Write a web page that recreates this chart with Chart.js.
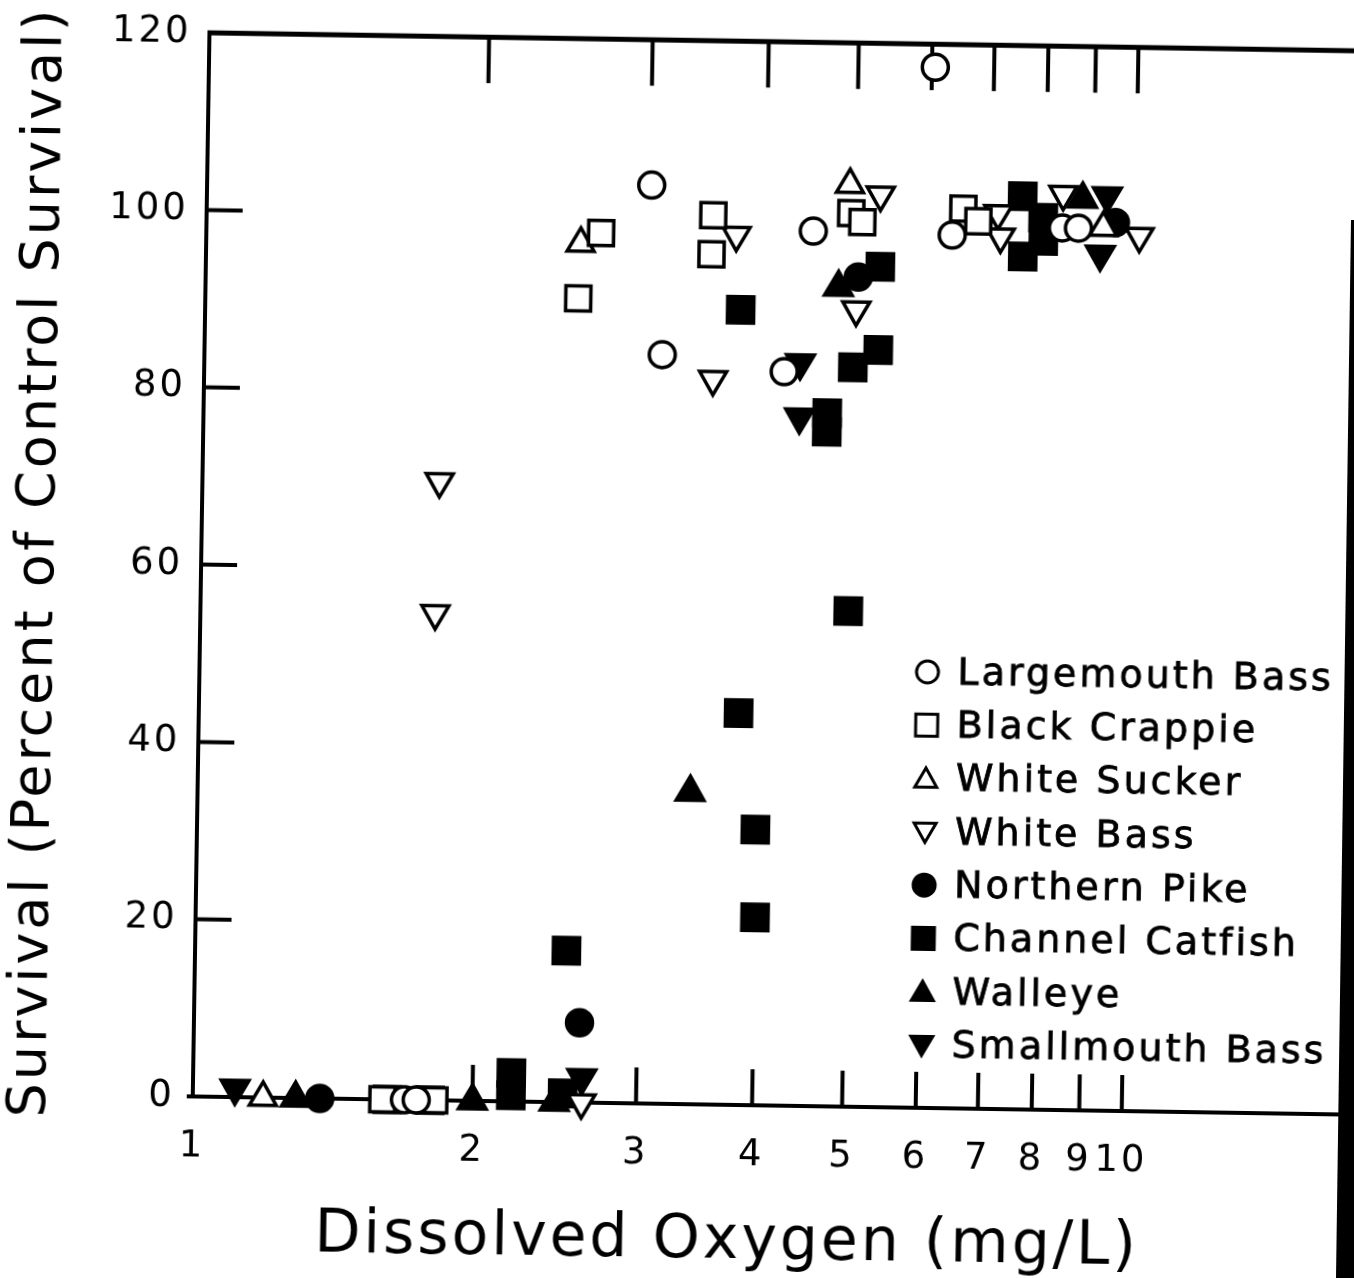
<!DOCTYPE html>
<html>
<head>
<meta charset="utf-8">
<script src="https://cdn.jsdelivr.net/npm/chart.js@4.4.1/dist/chart.umd.min.js"></script>
<style>
  html, body { margin: 0; padding: 0; background: #fff; overflow: hidden; }
  #wrap { position: absolute; left: 0; top: 0; width: 1354px; height: 1278px;
          transform: rotate(0.9deg); transform-origin: 677px 639px; }
  #edge { position: absolute; left: 0; top: 0; width: 1354px; height: 1278px; background: #000;
          clip-path: polygon(1351px 220px, 1354px 220px, 1354px 1278px, 1336px 1278px); }
</style>
</head>
<body>
<div id="wrap"><canvas id="myChart" width="1354" height="1278"></canvas></div>
<div id="edge"></div>
<script>
// tick values / labels
var xTickValues = [1, 2, 3, 4, 5, 6, 7, 8, 9, 10];
var xTickLabels = ['1', '2', '3', '4', '5', '6', '7', '8', '9', '10'];
var yTickValues = [0, 20, 40, 60, 80, 100, 120];

// [dissolved oxygen mg/L, survival %]
var largemouthBass = [[6.05, 117.4], [3.01, 103.6], [3.11, 84.5], [4.50, 98.7], [4.21, 82.8],
  [6.35, 98.5], [8.34, 99.5], [8.68, 99.5], [1.69, 0], [1.74, 0]];
var blackCrappie = [[2.52, 90.7], [2.66, 98.1], [3.51, 100.3], [3.50, 95.9], [4.94, 100.8],
  [5.08, 99.8], [6.52, 101.5], [6.77, 100.1], [1.60, 0], [1.82, 0]];
var whiteSucker = [[2.53, 96.9], [4.92, 104.0], [9.23, 99.6], [1.19, 0]];
var whiteBass = [[1.80, 69.8], [1.79, 54.9], [3.72, 98.1], [3.53, 81.8], [5.31, 102.9],
  [5.02, 89.9], [7.11, 101.0], [7.16, 98.4], [8.35, 103.3], [10.1, 98.7], [2.62, 0]];
var northernPike = [[5.04, 93.6], [9.51, 100.2], [2.60, 9.0], [1.37, 0]];
var channelCatfish = [[3.77, 89.7], [4.99, 83.4], [5.31, 85.4], [5.32, 94.8], [4.69, 78.2],
  [4.69, 76.1], [4.98, 55.9], [3.81, 44.2], [3.99, 31.1], [4.00, 21.2], [2.51, 17.1],
  [2.20, 3.2], [2.20, 0.7], [7.55, 103.0], [7.95, 100.6], [7.96, 98.0], [7.57, 96.2],
  [2.50, 1.0], [1.62, 0], [1.80, 0]];
var walleye = [[3.39, 35.2], [4.80, 92.4], [8.76, 102.8], [1.29, 0], [2.00, 0], [2.45, 0]];
var smallmouthBass = [[4.38, 83.8], [4.38, 77.7], [9.31, 103.2], [9.17, 96.6], [1.11, 1.0], [2.62, 2.8]];

var FONT = '"DejaVu Sans", sans-serif';

function pts(arr) { return arr.map(function (p) { return { x: p[0], y: p[1] }; }); }

function series(label, arr, style, filled, rot, r) {
  return {
    label: label,
    data: pts(arr),
    pointStyle: style,
    rotation: rot,
    pointRadius: r,
    pointBorderWidth: 3.5,
    pointBorderColor: '#000',
    pointBackgroundColor: filled ? '#000' : '#fff',
    mark: { style: style, filled: filled, rot: rot },
    clip: false
  };
}

function drawMark(ctx, m, x, y, s) {
  ctx.beginPath();
  if (m.style === 'circle') {
    ctx.arc(x, y, s * 0.5, 0, Math.PI * 2);
  } else if (m.style === 'rect') {
    ctx.rect(x - s * 0.5, y - s * 0.5, s, s);
  } else {
    var h = s * 0.87, d = m.rot ? -1 : 1;
    ctx.moveTo(x, y - d * h * 0.55);
    ctx.lineTo(x + s * 0.5, y + d * h * 0.45);
    ctx.lineTo(x - s * 0.5, y + d * h * 0.45);
    ctx.closePath();
  }
  ctx.fillStyle = m.filled ? '#000' : '#fff';
  ctx.fill();
  ctx.lineWidth = 3;
  ctx.strokeStyle = '#000';
  ctx.stroke();
}

var frame = {
  id: 'frame',
  beforeDraw: function (chart) {
    chart.ctx.letterSpacing = '3px';
  },
  beforeDatasetsDraw: function (chart) {
    var ctx = chart.ctx, a = chart.chartArea, x = chart.scales.x, y = chart.scales.y;
    function line(x1, y1, x2, y2) { ctx.beginPath(); ctx.moveTo(x1, y1); ctx.lineTo(x2, y2); ctx.stroke(); }
    ctx.save();
    ctx.strokeStyle = '#000';
    ctx.lineWidth = 5;
    line(a.left - 2, a.top, chart.width, a.top);
    ctx.lineWidth = 4;
    line(a.left - 6, a.bottom, chart.width, a.bottom);
    xTickValues.slice(1).forEach(function (v) {
      var px = x.getPixelForValue(v);
      line(px, a.top, px, a.top + 46);
      line(px, a.bottom, px, a.bottom - 36);
    });
    yTickValues.slice(1, -1).forEach(function (v) {
      var py = y.getPixelForValue(v);
      line(a.left, py, a.left + 36, py);
    });
    ctx.restore();
  },
  afterDraw: function (chart) {
    var ctx = chart.ctx;
    ctx.save();
    ctx.font = '38px ' + FONT;
    ctx.textBaseline = 'middle';
    ctx.textAlign = 'left';
    chart.data.datasets.forEach(function (ds, i) {
      var ly = 668 + i * 53.3;
      drawMark(ctx, ds.mark, 928, ly, 22);
      ctx.fillStyle = '#000';
      ctx.strokeStyle = '#000';
      ctx.lineWidth = 0.8;
      ctx.fillText(ds.label, 958, ly + 2);
      ctx.strokeText(ds.label, 958, ly + 2);
    });
    ctx.restore();
  }
};

var ctx = document.getElementById('myChart');
var myChart = new Chart(ctx, {
  type: 'scatter',
  data: {
    datasets: [
      series('Largemouth Bass', largemouthBass, 'circle', false, 0, 13),
      series('Black Crappie', blackCrappie, 'rect', false, 0, 17.7),
      series('White Sucker', whiteSucker, 'triangle', false, 0, 15.6),
      series('White Bass', whiteBass, 'triangle', false, 180, 15.6),
      series('Northern Pike', northernPike, 'circle', true, 0, 13),
      series('Channel Catfish', channelCatfish, 'rect', true, 0, 18.5),
      series('Walleye', walleye, 'triangle', true, 0, 16),
      series('Smallmouth Bass', smallmouthBass, 'triangle', true, 180, 16)
    ]
  },
  options: {
    responsive: false,
    animation: false,
    devicePixelRatio: 1,
    layout: { padding: { top: 38, right: 82, bottom: 0, left: 0 } },
    plugins: { legend: { display: false }, tooltip: { enabled: false } },
    scales: {
      x: {
        type: 'logarithmic',
        min: 1,
        max: 14.25,
        afterFit: function (scale) { scale.height = 174; },
        afterBuildTicks: function (scale) {
          scale.ticks = xTickValues.map(function (v) { return { value: v }; });
        },
        grid: { display: false, drawTicks: false },
        border: { display: false },
        ticks: {
          color: '#000',
          padding: 28,
          maxRotation: 0,
          autoSkip: false,
          font: { family: FONT, size: 37 },
          callback: function (value) {
            var i = xTickValues.indexOf(value);
            return i >= 0 ? xTickLabels[i] : '';
          }
        },
        title: {
          display: true,
          text: 'Dissolved Oxygen (mg/L)',
          color: '#000',
          font: { family: FONT, size: 60 },
          padding: { top: 0, bottom: 1 }
        }
      },
      y: {
        min: 0,
        max: 120,
        afterFit: function (scale) { scale.width = 200; },
        afterBuildTicks: function (scale) {
          scale.ticks = yTickValues.map(function (v) { return { value: v }; });
        },
        grid: { display: false, drawTicks: false },
        border: { display: true, color: '#000', width: 4 },
        ticks: {
          color: '#000',
          padding: 18,
          font: { family: FONT, size: 37 },
          callback: function (value) { return String(value); }
        },
        title: {
          display: true,
          text: 'Survival (Percent of Control Survival)',
          color: '#000',
          font: { family: FONT, size: 54 },
          padding: { top: 6, bottom: 0 }
        }
      }
    }
  },
  plugins: [frame]
});
</script>
</body>
</html>
